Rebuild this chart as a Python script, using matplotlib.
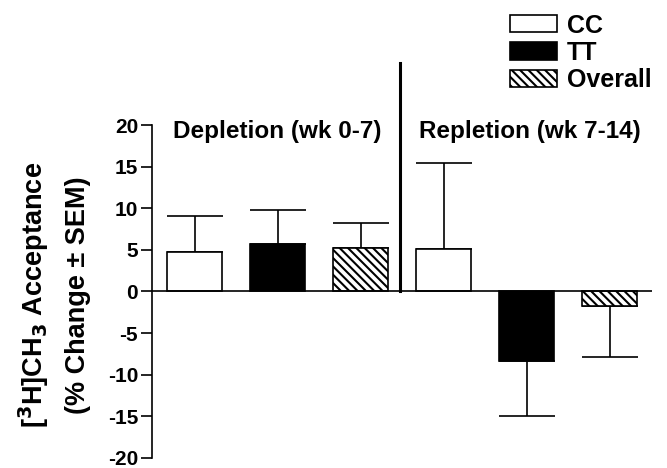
import matplotlib
matplotlib.use("Agg")
import matplotlib.pyplot as plt
from matplotlib.patches import Patch

plt.rcParams['font.family'] = ['Liberation Sans', 'DejaVu Sans']
plt.rcParams['font.weight'] = 'bold'
plt.rcParams['hatch.linewidth'] = 1.5

groups = ["CC", "TT", "Overall"]
depletion_vals = [4.8, 5.7, 5.2]
depletion_err = [4.3, 4.1, 3.0]
repletion_vals = [5.1, -8.4, -1.7]
repletion_err = [10.3, 6.6, 6.2]
yticks = [-20, -15, -10, -5, 0, 5, 10, 15, 20]

faces = ["white", "black", "white"]
hatches = [None, None, "\\\\\\\\"]

fig = plt.figure(figsize=(6.67, 4.68), dpi=100)
ax = fig.add_axes([0.228, 0.0214, 0.7495, 0.7115])

vals = depletion_vals + repletion_vals
errs = depletion_err + repletion_err
xs = list(range(len(vals)))
for i, (x, v, e) in enumerate(zip(xs, vals, errs)):
    k = i % 3
    ax.bar(x, v, width=0.67, color=faces[k], edgecolor="black", linewidth=1.2,
           hatch=hatches[k], zorder=2)
    sign = 1 if v >= 0 else -1
    ax.errorbar(x, v, yerr=[[0], [e]] if sign > 0 else [[e], [0]], fmt="none",
                ecolor="black", elinewidth=1.2, capsize=20, capthick=1.2, zorder=1)

ax.axhline(0, color="black", linewidth=1.2, zorder=3)
ax.plot([2.475, 2.475], [0, 27.5], color="black", linewidth=2.2, clip_on=False, zorder=4)

ax.set_xlim(-0.512, 5.51)
ax.set_ylim(-20, 20)
ax.set_yticks(yticks)
ax.set_yticklabels([str(t) for t in yticks], fontsize=15, fontweight="bold")
ax.tick_params(axis="y", direction="out", length=8, width=1.2, pad=2)
ax.set_xticks([])
for s in ["top", "right", "bottom"]:
    ax.spines[s].set_visible(False)
ax.spines["left"].set_linewidth(1.2)

ax.text(-0.26, 19.2, "Depletion (wk 0-7)", ha="left", va="center", fontsize=17.5, fontweight="bold")
ax.text(2.705, 19.2, "Repletion (wk 7-14)", ha="left", va="center", fontsize=17.5, fontweight="bold")

fig.text(0.05, 0.37, r"[$^{\mathbf{3}}$H]CH$_{\mathbf{3}}$ Acceptance", rotation=90,
         ha="center", va="center", fontsize=19.5, fontweight="bold")
fig.text(0.117, 0.37, "(% Change ± SEM)", rotation=90,
         ha="center", va="center", fontsize=19.5, fontweight="bold")

handles = [Patch(facecolor=faces[k], edgecolor="black", linewidth=1.2, hatch=hatches[k]) for k in range(3)]
fig.legend(handles, groups, loc="upper left", bbox_to_anchor=(0.764, 0.971),
           frameon=False, prop={"size": 18, "weight": "bold"},
           handlelength=1.88, handleheight=0.68, handletextpad=0.4,
           labelspacing=0.13, borderpad=0, borderaxespad=0)

fig.savefig("out.png", dpi=100)
